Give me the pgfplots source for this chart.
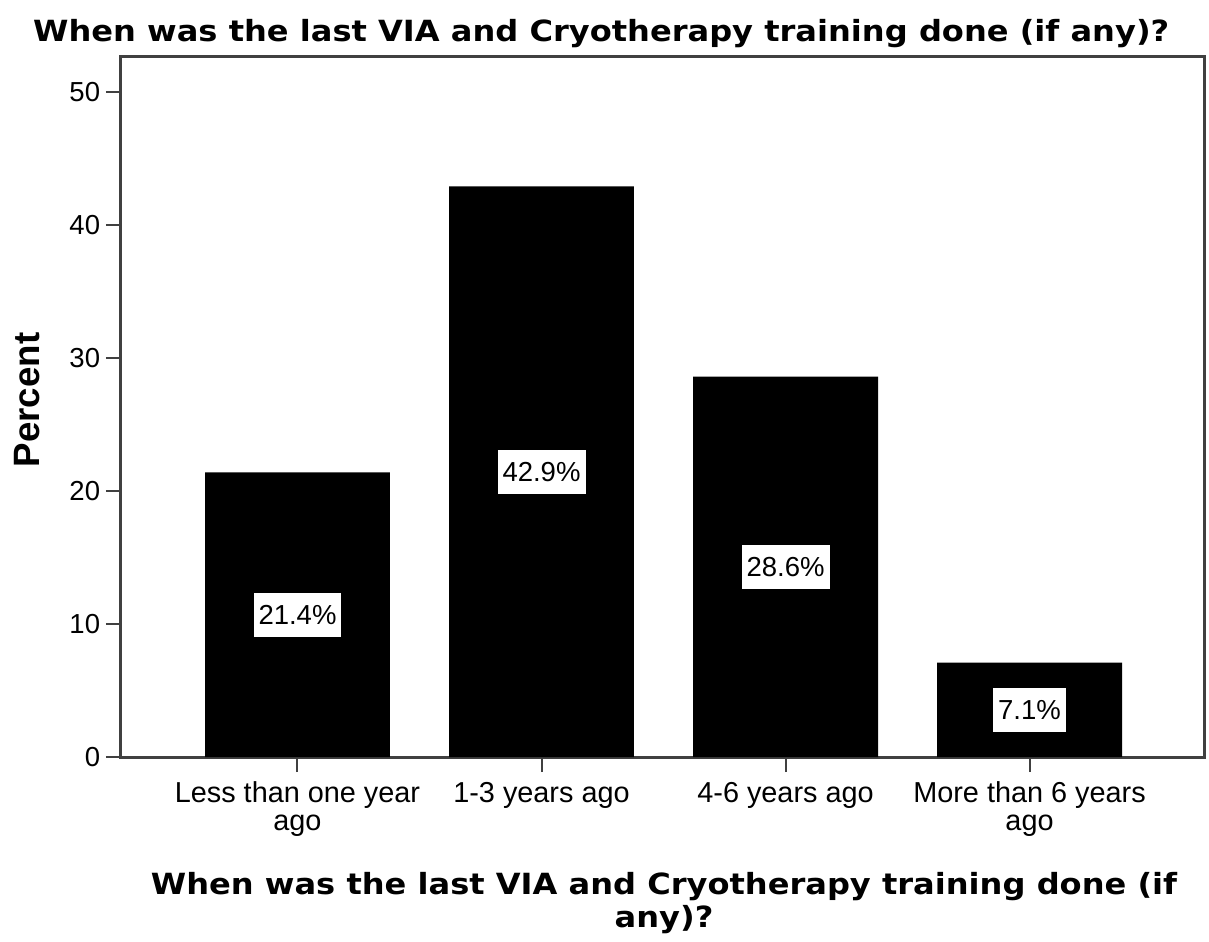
\documentclass[border=0pt]{standalone}
\usepackage{fontspec}
\setmainfont{Liberation Sans}
\newfontfamily\dejavu[FakeStretch=1.1]{DejaVu Sans}
\usepackage{pgfplots}
\pgfplotsset{compat=1.18}
\begin{document}
\begin{tikzpicture}
\begin{axis}[
  scale only axis,
  width=649.8pt, height=420pt,
  xmin=-0.7234, xmax=3.7151,
  ymin=0, ymax=52.63,
  ybar, bar width=0.758,
  xtick={0,1,2,3},
  xticklabels={{Less than one year\\ago},{1-3 years ago},{4-6 years ago},{More than 6 years\\ago}},
  xticklabel style={align=center, yshift=-2.5pt, font=\fontsize{17.3}{16.8}\selectfont},
  ytick={0,10,20,30,40,50},
  yticklabel style={font=\fontsize{16.5}{18}\selectfont},
  tick pos=left, tick align=outside,
  major tick length=9pt,
  major tick style={black!75, line width=1.2pt},
  axis line style={black!75, line width=1.8pt},
  /pgf/number format/assume math mode=true,
  clip=false,
  visualization depends on=y \as \rawy,
  nodes near coords={\pgfmathprintnumber[fixed,fixed zerofill,precision=1]{\pgfplotspointmeta}\%},
  nodes near coords style={anchor=center, fill=white, draw=black, line width=0.6pt,
    inner xsep=3.3pt, inner ysep=0pt, minimum height=27pt,
    font=\fontsize{16.5}{18}\selectfont,
    shift={(axis direction cs:0,-\rawy/2)}},
]
\addplot[fill=black, draw=none] coordinates {(0,21.4) (1,42.9) (2,28.6) (3,7.1)};

% titles and labels
\node[anchor=base, font=\dejavu\bfseries\fontsize{17.5}{18}\selectfont]
  at (rel axis cs:0.4434,1.0214) {When was the last VIA and Cryotherapy training done (if any)?};
\node[anchor=base, font=\dejavu\bfseries\fontsize{17.5}{18}\selectfont]
  at (rel axis cs:0.5014,-0.1971) {When was the last VIA and Cryotherapy training done (if};
\node[anchor=base, font=\dejavu\bfseries\fontsize{17.5}{18}\selectfont]
  at (rel axis cs:0.5014,-0.2429) {any)?};
\node[anchor=base, rotate=90, font=\bfseries\fontsize{22}{24}\selectfont]
  at (rel axis cs:-0.0748,0.51) {Percent};

\coordinate (bbSW) at (rel axis cs:-0.1117,-0.2629);
\coordinate (bbNE) at (rel axis cs:1.0046,1.0814);
\end{axis}
\pgfresetboundingbox
\useasboundingbox (bbSW) rectangle (bbNE);
\end{tikzpicture}
\end{document}
